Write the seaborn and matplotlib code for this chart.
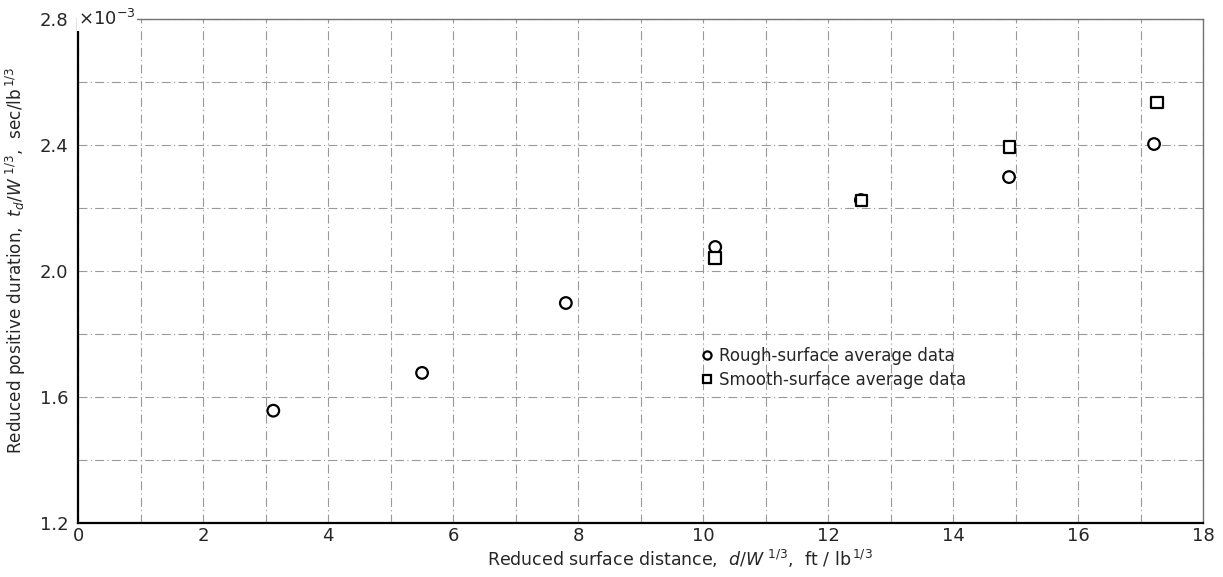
import numpy as np
import pandas as pd
import matplotlib
matplotlib.use("Agg")
import matplotlib.pyplot as plt
import seaborn as sns

# reduced distance d/W^1/3 (ft/lb^1/3) and reduced duration (x 10^-3 sec/lb^1/3)
rough_x = [3.12, 5.50, 7.80, 10.19, 12.52, 14.89, 17.21]
rough_y = [1.556, 1.676, 1.898, 2.076, 2.225, 2.298, 2.403]
smooth_x = [10.19, 12.53, 14.90, 17.26]
smooth_y = [2.041, 2.224, 2.394, 2.535]
series_names = ["Rough-surface average data", "Smooth-surface average data"]

x_ticks = [0, 2, 4, 6, 8, 10, 12, 14, 16, 18]
y_labels = {1.2: "1.2", 1.6: "1.6", 2.0: "2.0", 2.4: "2.4", 2.8: "2.8"}

df = pd.concat([
    pd.DataFrame({"x": rough_x, "y": rough_y, "kind": series_names[0]}),
    pd.DataFrame({"x": smooth_x, "y": smooth_y, "kind": series_names[1]}),
])

sns.set_style("white")
plt.rcParams["font.family"] = ["DejaVu Sans"]

fig = plt.figure(figsize=(12.23, 5.77), dpi=100)
ax = fig.add_axes([0.064, 0.094, 0.920, 0.873])

# grid lines, every 1 in x and 0.2 in y
for gx in range(0, 19):
    ax.axvline(gx, color="0.6", lw=0.8, ls=(0, (8, 3, 1, 3)), zorder=0)
for gy in np.arange(1.2, 2.81, 0.2):
    ax.axhline(gy, color="0.6", lw=0.8, ls=(0, (8, 3, 1, 3)), zorder=0)

sns.scatterplot(data=df, x="x", y="y", style="kind",
                markers={series_names[0]: "o", series_names[1]: "s"},
                s=70, facecolor="white", edgecolor="black", linewidth=1.6,
                ax=ax, zorder=3, legend=True)

ax.set_xlim(0, 18)
ax.set_ylim(1.2, 2.8)
ax.set_xticks(range(0, 19))
ax.set_xticklabels([str(t) if t in x_ticks else "" for t in range(0, 19)], fontsize=13)
yt = np.round(np.arange(1.2, 2.81, 0.2), 1)
ax.set_yticks(yt)
ax.set_yticklabels([y_labels.get(v, "") for v in yt], fontsize=13)
ax.tick_params(axis="both", length=5, width=1, color="black", direction="in")
ax.tick_params(axis="y", pad=7)
ax.tick_params(axis="x", pad=3)
# exponent of the y scale, right after the top tick label
ax.text(0.001, 2.8, r"$\times$10$^{-3}$", fontsize=13, ha="left", va="center",
        transform=ax.transData, clip_on=False,
        bbox=dict(facecolor="white", edgecolor="none", pad=1))

for side in ["left", "bottom"]:
    ax.spines[side].set_color("black")
    ax.spines[side].set_linewidth(1.6)
for side in ["top", "right"]:
    ax.spines[side].set_color("0.45")
    ax.spines[side].set_linewidth(1.0)

ax.set_xlabel(r"Reduced surface distance,  $d/W^{\ 1/3}$,  ft / lb$^{\,1/3}$", fontsize=12.5)
ax.set_ylabel(r"Reduced positive duration,  $t_d/W^{\ 1/3}$,  sec/lb$^{\,1/3}$", fontsize=12.2)
ax.yaxis.set_label_coords(-0.045, 0.52)
ax.xaxis.set_label_coords(0.535, -0.05)

leg = ax.legend(loc="upper left", bbox_to_anchor=(0.538, 0.379), frameon=False,
                fontsize=12, handlelength=1.0, handletextpad=0.2,
                labelspacing=0.35, markerscale=0.7)
for h in leg.legend_handles:
    if hasattr(h, "set_markerfacecolor"):
        h.set_markerfacecolor("white")
        h.set_markeredgecolor("black")
    else:
        h.set_facecolor("white")
        h.set_edgecolor("black")

fig.savefig("out.png", dpi=100, facecolor="white")
